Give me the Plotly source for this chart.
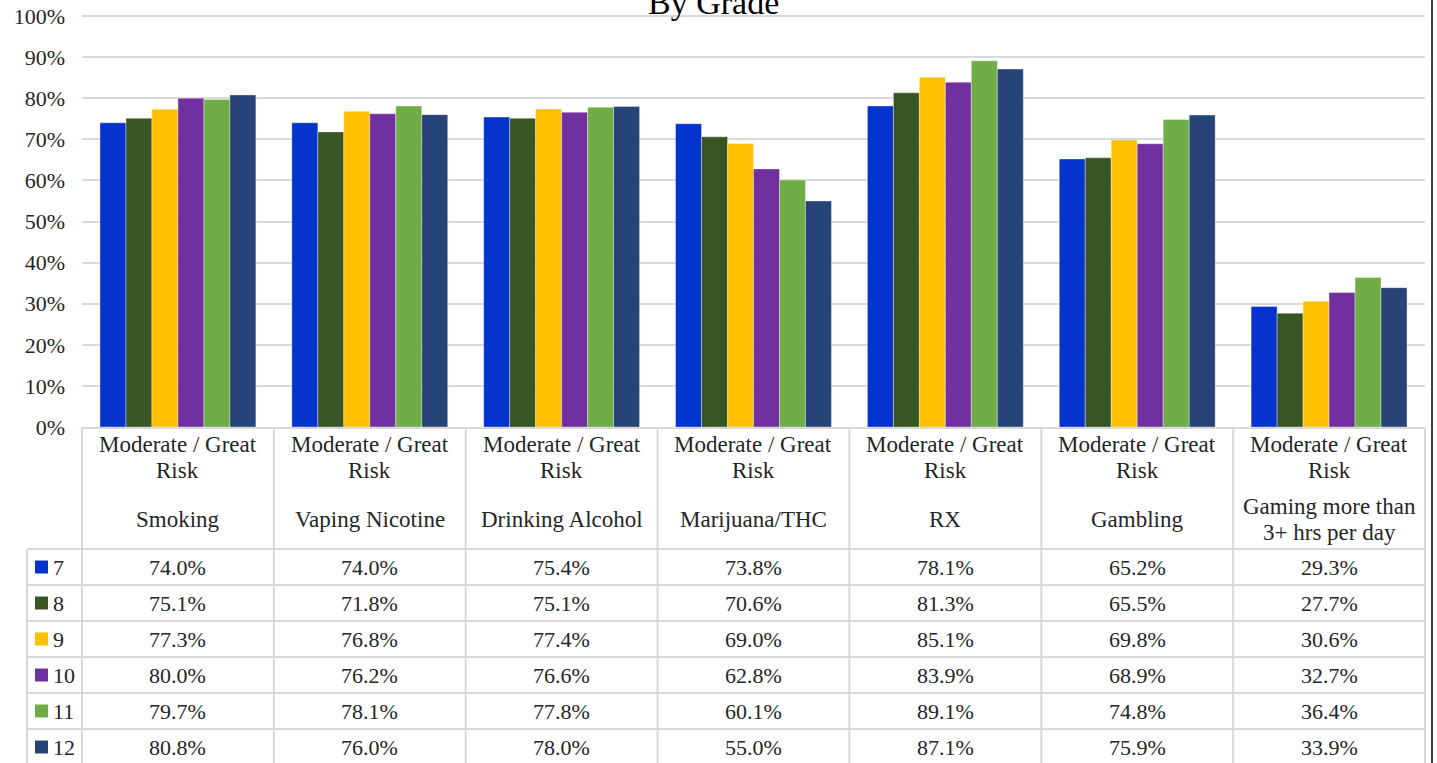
import plotly.graph_objects as go

# ---------------- data ----------------
title_text = "By Grade"
group_label = "Moderate / Great<br>Risk"
categories = ["Smoking", "Vaping Nicotine", "Drinking Alcohol", "Marijuana/THC",
              "RX", "Gambling", "Gaming more than<br>3+ hrs per day"]
grades = ["7", "8", "9", "10", "11", "12"]
grade7 = [74.0, 74.0, 75.4, 73.8, 78.1, 65.2, 29.3]
grade8 = [75.1, 71.8, 75.1, 70.6, 81.3, 65.5, 27.7]
grade9 = [77.3, 76.8, 77.4, 69.0, 85.1, 69.8, 30.6]
grade10 = [80.0, 76.2, 76.6, 62.8, 83.9, 68.9, 32.7]
grade11 = [79.7, 78.1, 77.8, 60.1, 89.1, 74.8, 36.4]
grade12 = [80.8, 76.0, 78.0, 55.0, 87.1, 75.9, 33.9]
series = [grade7, grade8, grade9, grade10, grade11, grade12]
colors = ["#0433CD", "#375623", "#FFC000", "#7030A0", "#70AD47", "#264478"]

# ---------------- geometry (pixels) ----------------
W, H = 1437, 763
FONT = "Liberation Serif, Times New Roman, serif"
TXT = "#262626"
GRID = "#d9d9d9"
plot_left, plot_right = 82, 1425
y0_px, y100_px = 427, 16
table_top = 428
header_bottom = 549
row_h = 36
legend_left = 27
line_gap = 26


def px(x):
    return x / W


def py(y):
    return 1 - y / H


fig = go.Figure()
x_keys = [str(i) for i in range(len(categories))]
for g, vals, c in zip(grades, series, colors):
    fig.add_trace(go.Bar(
        x=x_keys, y=[v / 100 for v in vals], name=g,
        marker=dict(color=c, line=dict(color="rgba(255,255,255,0.45)", width=0.8)),
        hoverinfo="skip", showlegend=False,
    ))

shapes = []
annotations = []

line_style = dict(color=GRID, width=2)
col_w = (plot_right - plot_left) / len(categories)
col_edges = [plot_left + i * col_w for i in range(len(categories) + 1)]
shapes.append(dict(type="line", xref="paper", yref="paper",
                   x0=px(plot_left), x1=px(plot_right), y0=py(table_top), y1=py(table_top), line=line_style))
for xe in col_edges:
    shapes.append(dict(type="line", xref="paper", yref="paper",
                       x0=px(xe), x1=px(xe), y0=py(table_top), y1=py(H + 5), line=line_style))
shapes.append(dict(type="line", xref="paper", yref="paper",
                   x0=px(legend_left), x1=px(legend_left), y0=py(header_bottom), y1=py(H + 5), line=line_style))
for r in range(len(grades) + 1):
    yy = header_bottom + r * row_h
    shapes.append(dict(type="line", xref="paper", yref="paper",
                       x0=px(legend_left), x1=px(plot_right), y0=py(yy), y1=py(yy), line=line_style))
shapes.append(dict(type="line", xref="paper", yref="paper",
                   x0=px(plot_left), x1=px(plot_right), y0=py(y100_px), y1=py(y100_px), line=line_style))

shapes.append(dict(type="line", xref="paper", yref="paper",
                   x0=px(1432), x1=px(1432), y0=-0.01, y1=1.01, line=dict(color="#404040", width=2)))


def add_lines(text, cx, center_y, size):
    parts = text.split("<br>")
    n = len(parts)
    for k, part in enumerate(parts):
        yy = center_y + (k - (n - 1) / 2) * line_gap
        annotations.append(dict(x=cx, y=py(yy), xref="paper", yref="paper", text=part,
                                showarrow=False, xanchor="center", yanchor="middle",
                                font=dict(family=FONT, size=size, color=TXT)))


for i, cat in enumerate(categories):
    cx = px((col_edges[i] + col_edges[i + 1]) / 2)
    add_lines(group_label, cx, 457, 23)
    add_lines(cat, cx, 519, 23)

for r, (g, vals, c) in enumerate(zip(grades, series, colors)):
    cy = header_bottom + r * row_h + row_h / 2
    shapes.append(dict(type="rect", xref="paper", yref="paper",
                       x0=px(35), x1=px(48), y0=py(cy - 6.5), y1=py(cy + 6.5),
                       fillcolor=c, line=dict(width=0)))
    annotations.append(dict(x=px(51), y=py(cy), xref="paper", yref="paper", text=g,
                            showarrow=False, xanchor="left", yanchor="middle",
                            font=dict(family=FONT, size=22, color=TXT)))
    for i, v in enumerate(vals):
        cx = px((col_edges[i] + col_edges[i + 1]) / 2)
        annotations.append(dict(x=cx, y=py(cy), xref="paper", yref="paper", text=f"{v:.1f}%",
                                showarrow=False, xanchor="center", yanchor="middle",
                                font=dict(family=FONT, size=22, color=TXT)))

annotations.append(dict(x=px(713), y=py(2), xref="paper", yref="paper", text=title_text,
                        showarrow=False, xanchor="center", yanchor="middle",
                        font=dict(family=FONT, size=34, color="#000000")))

fig.update_layout(
    width=W, height=H, autosize=False,
    margin=dict(l=0, r=0, t=0, b=0, autoexpand=False),
    paper_bgcolor="white", plot_bgcolor="white",
    font=dict(family=FONT, size=22, color=TXT),
    barmode="group", bargap=0.1875, bargroupgap=0,
    xaxis=dict(domain=[px(plot_left), px(plot_right)], range=[-0.5, len(categories) - 0.5],
               showticklabels=False, showgrid=False, zeroline=False, showline=False, ticks="",
               automargin=False),
    yaxis=dict(domain=[py(y0_px), py(y100_px)], range=[0, 1], dtick=0.1, tickformat=".0%",
               showgrid=True, gridcolor=GRID, gridwidth=2, zeroline=False, showline=False,
               ticks="", ticklabelstandoff=16, automargin=False,
               tickfont=dict(family=FONT, size=22, color=TXT)),
    shapes=shapes, annotations=annotations,
)

post = (
    "document.documentElement.style.margin='0';"
    "document.body.style.margin='0';document.body.style.overflow='hidden';"
    "var gd=document.querySelector('.plotly-graph-div');"
    "gd.style.position='fixed';gd.style.top='0px';gd.style.left='0px';"
)
fig.write_html("out.html", config={"displayModeBar": False}, post_script=post)
